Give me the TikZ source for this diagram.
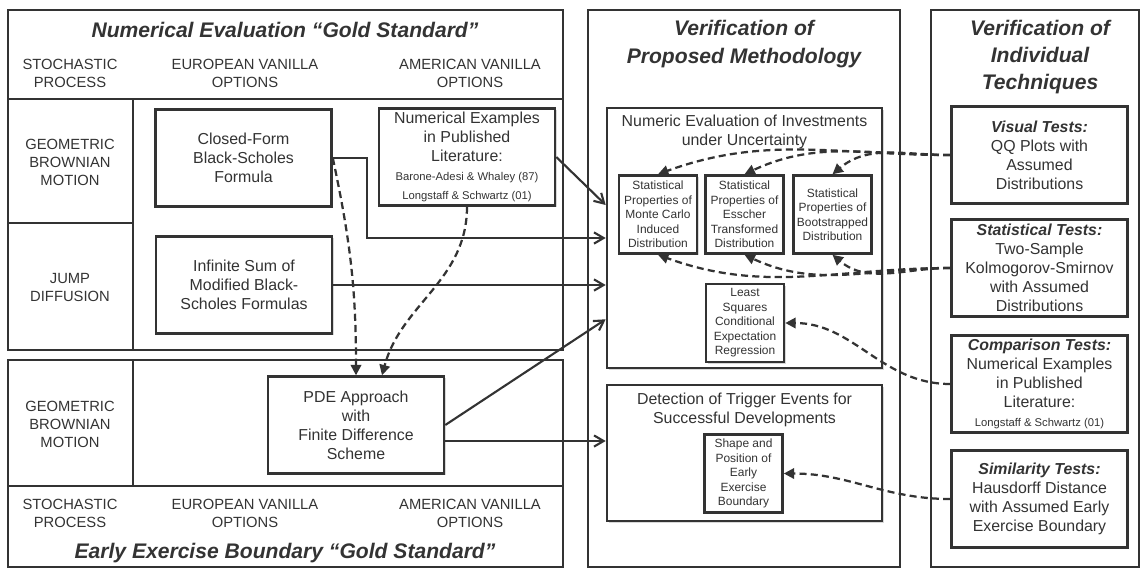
\documentclass[tikz,border=0pt]{standalone}
\usepackage{fontspec}
\setmainfont{Liberation Sans}
\usetikzlibrary{arrows.meta,calc,shadows}
\newcommand\refsize{\fontsize{8}{10}\selectfont}

\begin{document}
\begin{tikzpicture}[x=0.025cm,y=-0.025cm,font=\fontsize{11.3}{13.5}\selectfont,color=black!80,text=black!80,
  panel/.style={line width=1.4pt},
  box/.style={draw,line width=1.8pt,fill=white,align=center,inner sep=2pt,minimum width=4.4cm,minimum height=2.42cm,
    drop shadow={shadow xshift=1.2pt,shadow yshift=-1.2pt,fill=black!30}},
  sub/.style={box,minimum width=1.95cm,minimum height=1.95cm,font=\fontsize{8.5}{10.3}\selectfont},
  frame/.style={box,inner sep=0pt},
  ttl/.style={font=\fontsize{15}{19.5}\selectfont\bfseries\itshape,align=center},
  hdr/.style={font=\fontsize{10.5}{12.8}\selectfont,align=center},
  link/.style={line width=1.5pt,-{Straight Barb[length=2.4mm,width=2.8mm]}},
  dlink/.style={line width=1.6pt,dash pattern=on 5pt off 3pt,-{Triangle[length=2.6mm,width=2.6mm]}}]
\useasboundingbox (0,0) rectangle (1144,568);

% left panel: gold standards
\draw[panel] (8,10) rectangle (563,350);
\draw[panel] (8,99) -- (563,99) (133,99) -- (133,350) (8,223) -- (133,223);
\draw[panel] (8,360) rectangle (563,567);
\draw[panel] (8,486) -- (563,486) (133,360) -- (133,486);
\node[ttl] (numT) at (285,30) {Numerical Evaluation “Gold Standard”};
\node[hdr] (spU) at (70,73) {STOCHASTIC\\PROCESS};
\node[hdr] (euU) at (245,73) {EUROPEAN VANILLA\\OPTIONS};
\node[hdr] (amU) at (470,73) {AMERICAN VANILLA\\OPTIONS};
\node[hdr] (gbmU) at (70,162) {GEOMETRIC\\BROWNIAN\\MOTION};
\node[hdr] (jd) at (70,287) {JUMP\\DIFFUSION};
\node[hdr] (gbmL) at (70,424) {GEOMETRIC\\BROWNIAN\\MOTION};
\node[hdr] (spL) at (70,513) {STOCHASTIC\\PROCESS};
\node[hdr] (euL) at (245,513) {EUROPEAN VANILLA\\OPTIONS};
\node[hdr] (amL) at (470,513) {AMERICAN VANILLA\\OPTIONS};
\node[ttl] (eebT) at (285,553) {Early Exercise Boundary “Gold Standard”};

\node[box] (cf) at (243.5,158) {Closed-Form\\Black-Scholes\\Formula};
\node[box] (nex) at (467,157) {Numerical Examples\\in Published\\Literature:\\\refsize Barone-Adesi \& Whaley (87)\\\refsize Longstaff \& Schwartz (01)};
\node[box] (inf) at (244,285) {Infinite Sum of\\Modified Black-\\Scholes Formulas};
\node[box] (pde) at (356,425) {PDE Approach\\with\\Finite Difference\\Scheme};

% middle panel: proposed methodology
\draw[panel] (588,10) rectangle (900,567);
\node[ttl] (mthT) at (744,44) {Verification of\\Proposed Methodology};
\node[frame,minimum width=6.875cm,minimum height=6.5cm] (neu) at (744.5,238) {};
\node[align=center] (neuT) at (744.5,132) {Numeric Evaluation of Investments\\under Uncertainty};
\node[sub] (mc) at (658,214.5) {Statistical\\Properties of\\Monte Carlo\\Induced\\Distribution};
\node[sub] (es) at (744.5,214.5) {Statistical\\Properties of\\Esscher\\Transformed\\Distribution};
\node[sub] (bs) at (832.5,214.5) {Statistical\\Properties of\\Bootstrapped\\Distribution};
\node[sub] (ls) at (745,323) {Least\\Squares\\Conditional\\Expectation\\Regression};
\node[frame,minimum width=6.875cm,minimum height=3.4cm] (dtr) at (744.5,453) {};
\node[align=center] (dtrT) at (744.5,410) {Detection of Trigger Events for\\Successful Developments};
\node[sub] (sp) at (743.5,473.5) {Shape and\\Position of\\Early\\Exercise\\Boundary};

% right panel: individual techniques
\draw[panel] (931,10) rectangle (1139,567);
\node[ttl] (indT) at (1040,57) {Verification of\\Individual\\Techniques};
\node[box] (vis) at (1039.5,155) {\textbf{\textit{Visual Tests:}}\\QQ Plots with\\Assumed\\Distributions};
\node[box] (stat) at (1039.5,268) {\textbf{\textit{Statistical Tests:}}\\Two-Sample\\Kolmogorov-Smirnov\\with Assumed\\Distributions};
\node[box] (cmp) at (1039.5,384) {\textbf{\textit{Comparison Tests:}}\\Numerical Examples\\in Published\\Literature:\\\refsize Longstaff \& Schwartz (01)};
\node[box] (sim) at (1039.5,499) {\textbf{\textit{Similarity Tests:}}\\Hausdorff Distance\\with Assumed Early\\Exercise Boundary};

% solid links into the methodology
\draw[link] (cf.east) -- ++(34,0) |- (neu.west);
\draw[link] (nex.east) -- ($(neu.west)+(0,-33)$);
\draw[link] (inf.east) -- (inf.east -| neu.west);
\draw[link] (pde.east) -- ($(neu.south west)+(0,-50)$);
\draw[link] ([yshift=-0.4cm]pde.east) -- ([yshift=-0.4cm]pde.east -| dtr.west);

% dashed links
\draw[dlink] (cf.east) to[out=-78,in=90] (pde.north);
\draw[dlink] (nex.south) to[out=-90,in=75] ([xshift=0.65cm]pde.north);
\draw[dlink] (vis.west) to[out=180,in=20] (mc.north);
\draw[dlink] (vis.west) to[out=180,in=25] (es.north);
\draw[dlink] (vis.west) to[out=180,in=40] (bs.north);
\draw[dlink] (stat.west) to[out=180,in=-20] (mc.south);
\draw[dlink] (stat.west) to[out=180,in=-25] (es.south);
\draw[dlink] (stat.west) to[out=180,in=-40] (bs.south);
\draw[dlink] (cmp.west) to[out=180,in=0] (ls.east);
\draw[dlink] (sim.west) to[out=180,in=0] (sp.east);
\end{tikzpicture}
\end{document}
